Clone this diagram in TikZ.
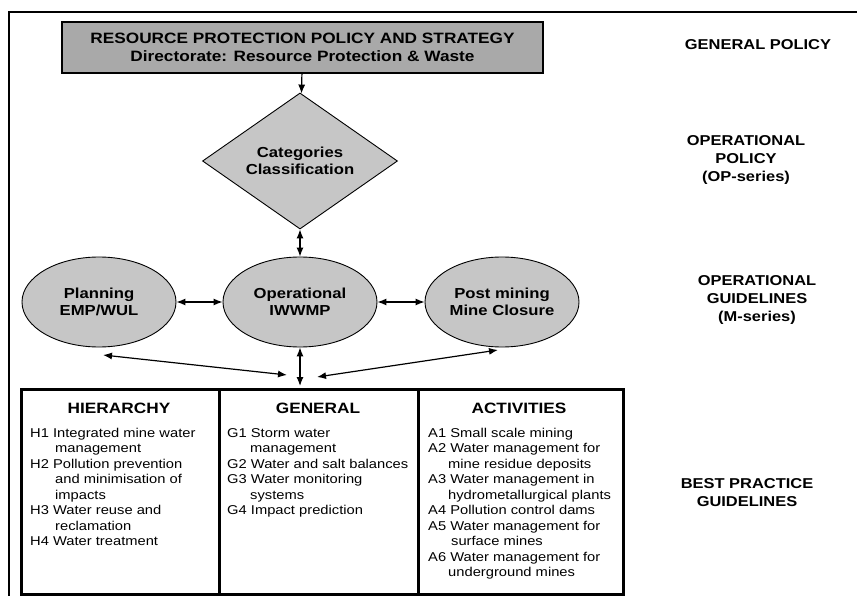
\documentclass[tikz,border=0pt]{standalone}
\usepackage{fontspec}
\setmainfont{Liberation Sans}[FakeStretch=1.15]
\usetikzlibrary{shapes.geometric,arrows.meta}
\definecolor{darkfill}{HTML}{A9A9A9}
\definecolor{lightfill}{HTML}{C6C6C6}
\tikzset{
  conn/.style={line width=1.2pt,{Latex[length=9pt,width=7pt]}-{Latex[length=9pt,width=7pt]}},
  oneway/.style={line width=1.2pt,-{Latex[length=9pt,width=7pt]}},
  oval/.style={ellipse,draw,line width=.9pt,fill=lightfill,minimum width=154pt,minimum height=90pt,inner sep=0pt,align=center,font=\fontsize{14.5}{17}\selectfont\bfseries},
  level/.style={align=center,font=\fontsize{14.3}{18}\selectfont\bfseries},
  column/.style={draw,line width=3pt,minimum height=205pt,anchor=north west,inner sep=0pt},
  listing/.style={anchor=north west,align=left,inner sep=0pt,font=\fontsize{12.8}{15.5}\selectfont}
}
\begin{document}
\begin{tikzpicture}[x=1pt,y=-1pt]
      \useasboundingbox (0,0) rectangle (857,596);
      \draw[line width=1.2pt] (857,12) -- (9,12) -- (9,596);
      % levels of policy
      \node[draw,line width=1.3pt,fill=darkfill,minimum width=481pt,minimum height=51pt,align=center,
      font=\fontsize{15}{18}\selectfont\bfseries] (policy) at (302.5,47.5)
      {RESOURCE PROTECTION POLICY AND STRATEGY\\Directorate: Resource Protection \& Waste};
      \node[diamond,draw,line width=.9pt,fill=lightfill,minimum width=195pt,minimum height=100pt,inner sep=0pt,
      align=center,font=\fontsize{14.5}{17}\selectfont\bfseries] (classes) at (300,161) {Categories\\Classification};
      \node[oval] (plan) at (99,302) {Planning\\EMP/WUL};
      \node[oval] (oper) at (300,302) {Operational\\IWWMP};
      \node[oval] (post) at (502,302) {Post mining\\Mine Closure};
      % best practice columns
      \node[column,minimum width=198pt] (hier) at (20,388) {};
      \node[column,minimum width=199pt] (gen) at (218,388) {};
      \node[column,minimum width=205pt] (act) at (417,388) {};
      \node[font=\fontsize{15}{18}\selectfont\bfseries] (hierhead) at (119,408) {HIERARCHY};
      \node[font=\fontsize{15}{18}\selectfont\bfseries] (genhead) at (318,408) {GENERAL};
      \node[font=\fontsize{15}{18}\selectfont\bfseries] (acthead) at (519,408) {ACTIVITIES};
      \node[listing] (hierlist) at (30,428) {H1 Integrated mine water\\\hspace*{25pt}management\\
      H2 Pollution prevention\\\hspace*{25pt}and minimisation of\\\hspace*{25pt}impacts\\
      H3 Water reuse and\\\hspace*{25pt}reclamation\\H4 Water treatment};
      \node[listing] (genlist) at (227,428) {G1 Storm water\\\hspace*{23pt}management\\
      G2 Water and salt balances\\G3 Water monitoring\\\hspace*{23pt}systems\\G4 Impact prediction};
      \node[listing] (actlist) at (428,428) {A1 Small scale mining\\A2 Water management for\\
      \hspace*{20pt}mine residue deposits\\A3 Water management in\\\hspace*{20pt}hydrometallurgical plants\\
      A4 Pollution control dams\\A5 Water management for\\\hspace*{23pt}surface mines\\
      A6 Water management for\\\hspace*{20pt}underground mines};
      % labels on the right
      \node[level] (genpol) at (758,45) {GENERAL POLICY};
      \node[level] (oppol) at (746,160) {OPERATIONAL\\POLICY\\(OP-series)};
      \node[level] (opguide) at (757,300) {OPERATIONAL\\GUIDELINES\\(M-series)};
      \node[level] (bestprac) at (747,493) {BEST PRACTICE\\GUIDELINES};
      % connectors
      \coordinate (ptip) at (103,355); \coordinate (lmeet) at (287,375);
      \coordinate (rmeet) at (317,377); \coordinate (mtip) at (498,350);
      \coordinate (cmeet) at (300,386);
      \draw[oneway] (policy) -- (classes);
      \draw[conn] (classes) -- (oper);
      \draw[conn] (plan) -- (oper); \draw[conn] (oper) -- (post);
      \draw[conn] (oper) -- (cmeet);
      \draw[conn] (ptip) -- (lmeet); \draw[conn] (rmeet) -- (mtip);
\end{tikzpicture}
\end{document}
